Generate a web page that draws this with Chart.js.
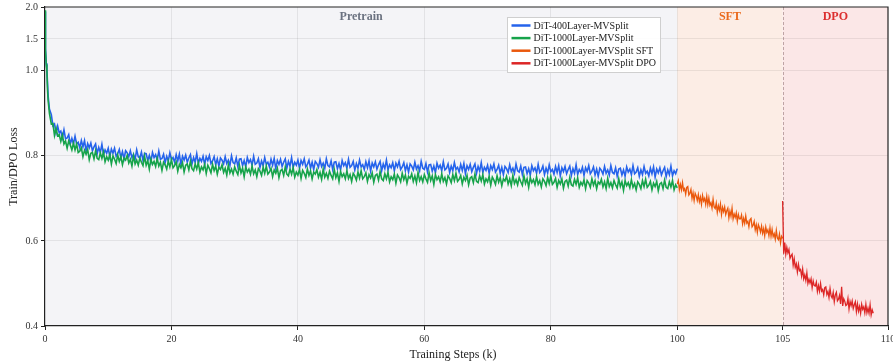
<!DOCTYPE html>
<html>
<head>
<meta charset="utf-8">
<script src="https://cdn.jsdelivr.net/npm/chart.js@4/dist/chart.umd.min.js"></script>
<style>
  html, body { margin: 0; padding: 0; background: #fff; }
  #wrap { width: 893px; height: 364px; position: relative; }
</style>
</head>
<body>
<div id="wrap"><canvas id="lossChart"></canvas></div>
<script>
// ── data (loss, steps in k) ───────────────────────────────────
const HEAD_STEPS = [0, 0.05, 0.1, 0.2, 0.3, 0.4, 0.5, 0.7];
const LOSS_400_HEAD  = [1.93, 1.60, 1.35, 1.12, 1.02, 0.97, 0.94, 0.91];
const LOSS_1000_HEAD = [1.95, 1.58, 1.32, 1.10, 1.00, 0.955, 0.93, 0.90];

// pretrain: from 1k to 100k, every 0.25k
const PRE_START = 1, PRE_STEP = 0.25;
const LOSS_400_PRE = [
  .897,.871,.875,.854,.870,.854,.858,.842,.861,.840,
  .842,.850,.828,.841,.828,.846,.828,.832,.819,.836,
  .821,.836,.811,.829,.819,.830,.812,.821,.828,.805,
  .820,.808,.827,.803,.814,.806,.818,.798,.816,.806,
  .818,.799,.805,.815,.796,.810,.793,.812,.807,.798,
  .812,.796,.804,.792,.814,.798,.795,.809,.789,.806,
  .805,.789,.801,.786,.808,.796,.803,.790,.811,.792,
  .794,.804,.784,.799,.788,.807,.791,.796,.785,.803,
  .788,.804,.780,.799,.790,.802,.785,.795,.803,.781,
  .796,.785,.805,.782,.794,.787,.799,.780,.798,.789,
  .801,.782,.788,.798,.779,.793,.776,.795,.790,.781,
  .798,.782,.790,.778,.800,.784,.781,.795,.775,.792,
  .793,.777,.789,.774,.796,.784,.791,.778,.799,.780,
  .783,.793,.773,.788,.777,.796,.780,.785,.774,.792,
  .778,.794,.770,.789,.780,.792,.775,.785,.793,.771,
  .787,.776,.796,.773,.785,.778,.790,.771,.789,.780,
  .793,.774,.780,.790,.771,.785,.768,.787,.782,.773,
  .791,.775,.783,.771,.793,.777,.774,.788,.768,.785,
  .786,.770,.782,.767,.789,.777,.784,.771,.792,.773,
  .777,.787,.767,.782,.771,.790,.774,.779,.768,.786,
  .772,.788,.764,.783,.774,.786,.769,.779,.787,.765,
  .781,.770,.790,.767,.779,.772,.784,.765,.783,.774,
  .787,.768,.774,.784,.765,.779,.762,.781,.776,.767,
  .785,.769,.777,.765,.787,.771,.768,.782,.762,.779,
  .780,.764,.776,.761,.783,.771,.778,.765,.786,.767,
  .771,.781,.761,.776,.765,.784,.768,.773,.762,.780,
  .766,.782,.758,.777,.768,.780,.763,.773,.781,.759,
  .775,.764,.784,.761,.773,.766,.778,.759,.777,.768,
  .781,.762,.768,.778,.759,.773,.756,.775,.770,.761,
  .779,.763,.771,.759,.781,.765,.762,.776,.756,.773,
  .774,.758,.770,.755,.777,.765,.772,.759,.780,.761,
  .766,.776,.756,.771,.760,.779,.763,.768,.757,.775,
  .761,.777,.753,.772,.763,.775,.758,.768,.776,.754,
  .770,.759,.779,.756,.768,.761,.773,.754,.772,.763,
  .777,.758,.764,.774,.755,.769,.752,.771,.766,.757,
  .775,.759,.767,.755,.777,.761,.758,.772,.752,.769,
  .771,.755,.767,.752,.774,.762,.769,.756,.777,.758,
  .762,.772,.752,.767,.756,.775,.759,.764,.753,.771,
  .758,.774,.750,.769,.760,.772,.755,.765,.773,.751,
  .767,.756,.776,.753,.765,.758,.770
];
const LOSS_1000_PRE = [
  .875,.876,.848,.865,.847,.850,.834,.849,.828,.835,
  .818,.835,.826,.814,.830,.814,.828,.808,.811,.819,
  .798,.813,.804,.815,.791,.806,.808,.793,.812,.794,
  .791,.807,.794,.809,.786,.798,.790,.803,.781,.800,
  .792,.782,.802,.787,.798,.779,.795,.790,.801,.783,
  .792,.776,.800,.781,.790,.778,.795,.785,.777,.799,
  .778,.789,.769,.792,.780,.787,.775,.794,.776,.785,
  .766,.785,.779,.769,.788,.774,.791,.772,.777,.786,
  .764,.780,.772,.784,.762,.778,.781,.767,.787,.770,
  .765,.781,.769,.784,.762,.774,.767,.780,.759,.778,
  .770,.760,.780,.765,.776,.757,.773,.768,.779,.761,
  .771,.755,.779,.760,.769,.757,.774,.764,.756,.778,
  .760,.771,.751,.774,.762,.769,.757,.776,.758,.767,
  .751,.770,.764,.754,.773,.759,.776,.757,.762,.771,
  .751,.767,.759,.771,.749,.765,.768,.754,.774,.757,
  .753,.769,.757,.772,.750,.762,.755,.768,.747,.766,
  .759,.749,.769,.754,.765,.746,.762,.757,.768,.750,
  .761,.745,.769,.750,.759,.747,.764,.754,.746,.768,
  .749,.760,.740,.763,.751,.758,.746,.765,.747,.756,
  .740,.759,.753,.743,.762,.748,.765,.746,.751,.760,
  .740,.756,.748,.760,.738,.754,.757,.743,.763,.746,
  .742,.758,.746,.761,.739,.751,.744,.757,.736,.755,
  .749,.739,.759,.744,.755,.736,.752,.747,.758,.740,
  .753,.737,.761,.742,.751,.739,.756,.746,.738,.760,
  .742,.753,.733,.756,.744,.751,.739,.758,.740,.749,
  .734,.753,.747,.737,.756,.742,.759,.740,.745,.754,
  .734,.750,.742,.754,.732,.748,.751,.737,.757,.740,
  .737,.753,.741,.756,.734,.746,.739,.752,.731,.750,
  .743,.733,.753,.738,.749,.730,.746,.741,.752,.734,
  .746,.730,.754,.735,.744,.732,.749,.739,.731,.753,
  .735,.746,.726,.749,.737,.744,.732,.751,.733,.742,
  .727,.746,.740,.730,.749,.735,.752,.733,.738,.747,
  .726,.742,.734,.746,.724,.740,.743,.729,.749,.732,
  .729,.745,.733,.748,.726,.738,.731,.744,.723,.742,
  .736,.726,.746,.731,.742,.723,.739,.734,.745,.727,
  .739,.723,.747,.728,.737,.725,.742,.732,.724,.746,
  .728,.739,.719,.742,.730,.737,.725,.744,.726,.735,
  .720,.739,.733,.723,.742,.728,.745,.726,.731,.740,
  .720,.736,.728,.740,.718,.734,.737,.723,.743,.726,
  .723,.739,.727,.742,.720,.732,.725
];

// SFT: 100k..105k every 0.05k
const SFT_START = 100, SFT_STEP = 0.05;
const LOSS_SFT = [
  .734,.742,.720,.733,.720,.737,.719,.723,.710,.726,
  .728,.708,.712,.721,.700,.713,.695,.712,.706,.695,
  .709,.692,.703,.686,.707,.694,.700,.686,.705,.685,
  .701,.684,.690,.677,.698,.680,.676,.689,.667,.683,
  .672,.687,.662,.679,.669,.680,.662,.671,.677,.654,
  .670,.658,.677,.652,.663,.655,.666,.646,.662,.652,
  .652,.661,.640,.653,.641,.659,.642,.646,.633,.650,
  .653,.633,.637,.646,.626,.638,.620,.638,.631,.621,
  .635,.618,.629,.612,.633,.620,.626,.612,.631,.611,
  .627,.610,.617,.604,.625,.607,.603,.616,.595,.611,
  .606
];

// DPO: 105k..109.3k every 0.05k
const DPO_START = 105, DPO_STEP = 0.05;
const LOSS_DPO = [
  .694,
  .570,.596,.569,.585,.572,.580,.559,.565,.569,.543,
  .558,.538,.546,.527,.545,.530,.533,.517,.534,.511,
  .520,.507,.525,.500,.510,.501,.511,.490,.506,.495,
  .494,.503,.481,.495,.482,.500,.482,.486,.473,.490,
  .492,.474,.481,.467,.488,.471,.466,.479,.457,.473,
  .479,.459,.463,.472,.452,.492,.447,.464,.458,.448,
  .450,.465,.440,.458,.448,.459,.441,.450,.457,.434,
  .452,.435,.446,.430,.451,.439,.445,.431,.451,.431,
  .442,.430,.450,.426,.438,.430
];

const X_TICKS = [0, 20, 40, 60, 80, 100, 105, 110];
const Y_TICKS = [0.4, 0.6, 0.8, 1.0, 1.5, 2.0];

const SERIES_LABELS = ['DiT-400Layer-MVSplit', 'DiT-1000Layer-MVSplit',
                       'DiT-1000Layer-MVSplit SFT', 'DiT-1000Layer-MVSplit DPO'];
const COLORS = ['#2563eb', '#16a34a', '#ea580c', '#dc2626'];

const STAGES = [
  { name: 'Pretrain', from: 0,   to: 100, bg: '#f4f4f7', fg: '#6b7280' },
  { name: 'SFT',      from: 100, to: 105, bg: '#fcede5', fg: '#ea6a1c' },
  { name: 'DPO',      from: 105, to: 110, bg: '#fbe7e7', fg: '#dc2f2f' },
];

const FONT = "'Liberation Serif', 'Times New Roman', serif";

// ── helpers ──────────────────────────────────────────────────
function toPoints(start, step, values) {
  return values.map((y, i) => ({ x: +(start + i * step).toFixed(2), y }));
}
const headPts = (vals) => HEAD_STEPS.map((x, i) => ({ x, y: vals[i] }));

// linear scale with piecewise breaks: [[value, decimal], ...]
class PiecewiseScale extends Chart.LinearScale {
  buildTicks() {
    return this.options.fixedTicks.map(v => ({ value: v }));
  }
  _toDecimal(v) {
    const b = this.options.breaks;
    let i = 1;
    while (i < b.length - 1 && v > b[i][0]) i++;
    const [v0, d0] = b[i - 1], [v1, d1] = b[i];
    return d0 + (v - v0) / (v1 - v0) * (d1 - d0);
  }
  getPixelForValue(v) {
    return this.getPixelForDecimal(this._toDecimal(v));
  }
  getValueForPixel(p) {
    const d = this.getDecimalForPixel(p);
    const b = this.options.breaks;
    let i = 1;
    while (i < b.length - 1 && d > b[i][1]) i++;
    const [v0, d0] = b[i - 1], [v1, d1] = b[i];
    return v0 + (d - d0) / (d1 - d0) * (v1 - v0);
  }
}
PiecewiseScale.id = 'piecewise';
PiecewiseScale.defaults = Chart.LinearScale.defaults;
Chart.register(PiecewiseScale);

// ── plugins ──────────────────────────────────────────────────
const stagePlugin = {
  id: 'stages',
  beforeDraw(chart) {
    const { ctx, chartArea: a, scales: { x } } = chart;
    ctx.save();
    ctx.fillStyle = '#fff';
    ctx.fillRect(0, 0, chart.width, chart.height);
    STAGES.forEach(s => {
      const x0 = x.getPixelForValue(s.from), x1 = x.getPixelForValue(s.to);
      ctx.fillStyle = s.bg;
      ctx.fillRect(x0, a.top, x1 - x0, a.bottom - a.top);
    });
    ctx.restore();
  },
  beforeDatasetsDraw(chart) {
    const { ctx, chartArea: a, scales: { x } } = chart;
    const px = Math.round(x.getPixelForValue(105)) + 0.5;
    ctx.save();
    ctx.strokeStyle = 'rgba(140,110,110,0.55)';
    ctx.lineWidth = 1;
    ctx.setLineDash([3, 2]);
    ctx.beginPath();
    ctx.moveTo(px, a.top);
    ctx.lineTo(px, a.bottom);
    ctx.stroke();
    ctx.restore();
  },
  afterDraw(chart) {
    const { ctx, chartArea: a, scales: { x } } = chart;
    ctx.save();
    // stage names
    ctx.font = `bold 12px ${FONT}`;
    ctx.textAlign = 'center';
    ctx.textBaseline = 'middle';
    STAGES.forEach(s => {
      ctx.fillStyle = s.fg;
      ctx.fillText(s.name, (x.getPixelForValue(s.from) + x.getPixelForValue(s.to)) / 2, a.top + 10);
    });
    // x axis title (sits a bit left of centre in the original)
    ctx.font = `12px ${FONT}`;
    ctx.fillStyle = '#222';
    ctx.fillText('Training Steps (k)', 453, chart.height - 9);
    // top and right frame
    ctx.strokeStyle = '#222';
    ctx.lineWidth = 1.2;
    ctx.beginPath();
    ctx.moveTo(a.left, a.top);
    ctx.lineTo(a.right, a.top);
    ctx.lineTo(a.right, a.bottom);
    ctx.stroke();
    // legend
    const lx = 507.5, ly = 17.5, lw = 153, lh = 55;
    ctx.fillStyle = 'rgba(255,255,255,0.92)';
    ctx.strokeStyle = '#cfcfcf';
    ctx.lineWidth = 1;
    ctx.fillRect(lx, ly, lw, lh);
    ctx.strokeRect(lx, ly, lw, lh);
    ctx.font = `10px ${FONT}`;
    ctx.textAlign = 'left';
    SERIES_LABELS.forEach((label, i) => {
      const y = ly + 8 + i * 12.6;
      ctx.strokeStyle = COLORS[i];
      ctx.lineWidth = 2.5;
      ctx.beginPath();
      ctx.moveTo(lx + 4, y);
      ctx.lineTo(lx + 23, y);
      ctx.stroke();
      ctx.fillStyle = '#222';
      ctx.fillText(label, lx + 26, y + 0.5);
    });
    ctx.restore();
  }
};

// ── chart ────────────────────────────────────────────────────
Chart.defaults.font.family = FONT;
Chart.defaults.color = '#333';

const line = (i, data, order, width) => ({
  label: SERIES_LABELS[i],
  data,
  borderColor: COLORS[i],
  borderWidth: width,
  pointRadius: 0,
  tension: 0,
  fill: false,
  order,
});

new Chart(document.getElementById('lossChart'), {
  type: 'line',
  data: {
    datasets: [
      line(0, headPts(LOSS_400_HEAD).concat(toPoints(PRE_START, PRE_STEP, LOSS_400_PRE)), 4, 1.6),
      line(1, headPts(LOSS_1000_HEAD).concat(toPoints(PRE_START, PRE_STEP, LOSS_1000_PRE)), 3, 1.6),
      line(2, toPoints(SFT_START, SFT_STEP, LOSS_SFT), 2, 1.3),
      line(3, toPoints(DPO_START, DPO_STEP, LOSS_DPO), 1, 1.3),
    ],
  },
  options: {
    responsive: true,
    maintainAspectRatio: false,
    animation: false,
    layout: { padding: { top: 7, right: 5, left: 0, bottom: 0 } },
    plugins: { legend: { display: false }, tooltip: { enabled: false } },
    scales: {
      x: {
        type: 'piecewise',
        min: 0, max: 110,
        fixedTicks: X_TICKS,
        breaks: [[0, 0], [100, 0.75], [105, 0.875], [110, 1]],
        afterFit: s => { s.height = 38; s.paddingLeft = 0; s.paddingRight = 0; },
        border: { color: '#222', width: 1.2 },
        grid: {
          color: c => (c.tick && (c.tick.value === 105 || c.tick.value === 0 || c.tick.value === 110))
            ? 'rgba(0,0,0,0)' : 'rgba(0,0,0,0.07)',
          tickColor: '#222',
          tickLength: 4,
        },
        ticks: {
          font: { size: 10 },
          color: '#333',
          padding: 3,
          maxRotation: 0,
          autoSkip: false,
          callback: v => String(v),
        },
        title: { display: false },
      },
      y: {
        type: 'piecewise',
        min: 0.4, max: 2.0,
        fixedTicks: Y_TICKS,
        breaks: [[0.4, 0], [1.0, 0.8], [2.0, 1]],
        afterFit: s => { s.width = 45; s.paddingTop = 0; s.paddingBottom = 0; },
        border: { color: '#222', width: 1.2 },
        grid: {
          color: c => (c.tick && (c.tick.value === 0.4 || c.tick.value === 2.0))
            ? 'rgba(0,0,0,0)' : 'rgba(0,0,0,0.07)',
          tickColor: '#222',
          tickLength: 4,
        },
        ticks: {
          font: { size: 10 },
          color: '#333',
          padding: 3,
          autoSkip: false,
          callback: v => Number(v).toFixed(1),
        },
        title: {
          display: true,
          text: 'Train/DPO Loss',
          font: { size: 12 },
          color: '#222',
          padding: { top: 7, bottom: 0 },
        },
      },
    },
  },
  plugins: [stagePlugin],
});
</script>
</body>
</html>
